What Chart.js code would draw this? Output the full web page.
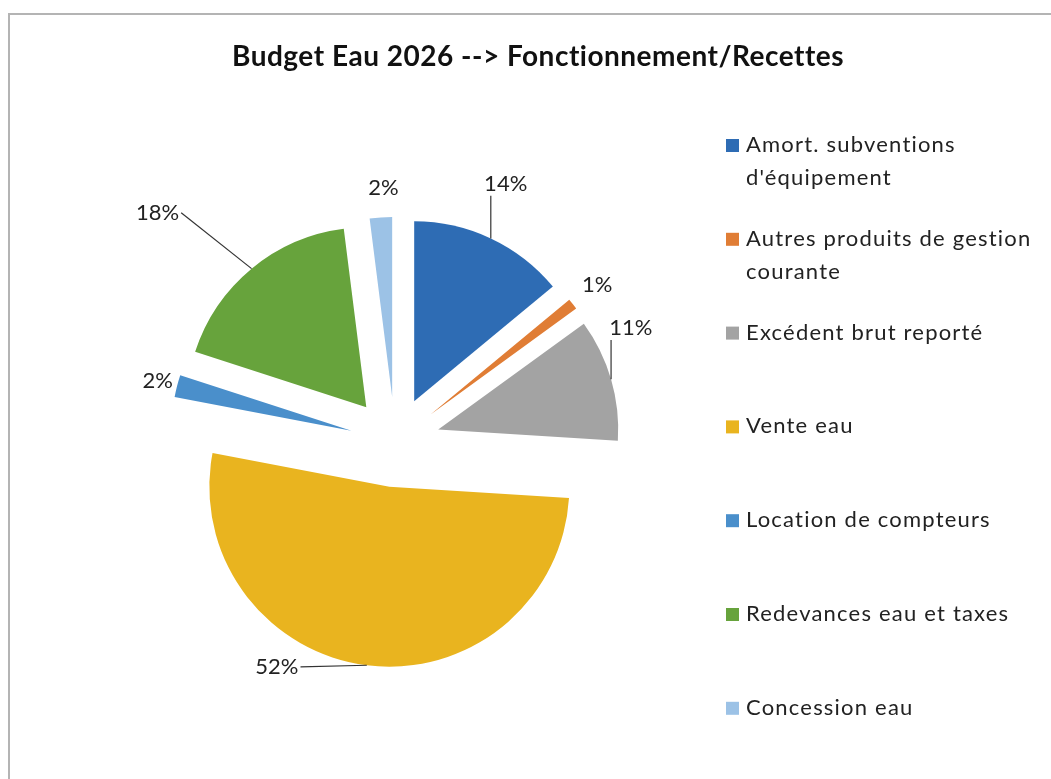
<!DOCTYPE html>
<html>
<head>
<meta charset="utf-8">
<script src="https://cdn.jsdelivr.net/npm/chart.js@4.4.0/dist/chart.umd.min.js"></script>
<style>
  html, body { margin: 0; padding: 0; background: #fff; }
</style>
</head>
<body>
<canvas id="chart-budget" width="1051" height="779"></canvas>
<script>
// données du graphique
const categories = [
  "Amort. subventions d'équipement",
  "Autres produits de gestion courante",
  "Excédent brut reporté",
  "Vente eau",
  "Location de compteurs",
  "Redevances eau et taxes",
  "Concession eau"
];
const percents = [14, 1, 11, 52, 2, 18, 2];
const colors = ["#2e6cb4", "#e07d35", "#a3a3a3", "#e9b41f", "#4a8fcb", "#67a33c", "#9cc2e6"];

const TITLE = "Budget Eau 2026 --> Fonctionnement/Recettes";
const EXPLODE = 45;       // décalage des parts (px)
const FONT = "Lato, 'Noto Sans', sans-serif";

// placement des étiquettes : [décalage d'angle (deg), distance du centre]
const labelPlace = [[-2, 281], [0, 256], [-9.6, 262], [20.5, 254], [0, 245], [-6.4, 330], [1, 254]];
const leaders = [true, false, true, true, false, true, false];

// cadre + titre
const frame = {
  id: "frame",
  beforeDraw(chart) {
    const ctx = chart.ctx;
    ctx.save();
    ctx.strokeStyle = "#b4b4b4";
    ctx.lineWidth = 2;
    ctx.strokeRect(9, 14, 1100, 800);
    ctx.fillStyle = "#111";
    ctx.font = "bold 28px " + FONT;
    ctx.letterSpacing = "0.5px";
    ctx.textAlign = "center";
    ctx.textBaseline = "middle";
    ctx.fillText(TITLE, 538, 57);
    ctx.restore();
  }
};

// parts éclatées : translation pure le long de la bissectrice
const explode = {
  id: "explode",
  beforeDatasetDraw(chart, args) {
    const ctx = chart.ctx;
    args.meta.data.forEach(arc => {
      const mid = (arc.startAngle + arc.endAngle) / 2;
      ctx.save();
      ctx.translate(Math.cos(mid) * EXPLODE, Math.sin(mid) * EXPLODE);
      arc.draw(ctx);
      ctx.restore();
    });
    return false;
  }
};

// étiquettes de pourcentage + lignes de rappel
const pctLabels = {
  id: "pctLabels",
  afterDatasetsDraw(chart) {
    const ctx = chart.ctx;
    const arcs = chart.getDatasetMeta(0).data;
    const total = percents.reduce((a, b) => a + b, 0);
    ctx.save();
    ctx.font = "22px " + FONT;
    ctx.fillStyle = "#222";
    ctx.strokeStyle = "#333";
    ctx.lineWidth = 1.2;
    ctx.textAlign = "center";
    ctx.textBaseline = "middle";
    arcs.forEach((arc, i) => {
      const mid = (arc.startAngle + arc.endAngle) / 2;
      const a = mid + labelPlace[i][0] * Math.PI / 180;
      const d = labelPlace[i][1];
      const lx = arc.x + Math.cos(a) * d;
      const ly = arc.y + Math.sin(a) * d;
      const txt = Math.round(percents[i] / total * 100) + "%";
      ctx.fillText(txt, lx, ly);
      if (leaders[i]) {
        const w = ctx.measureText(txt).width;
        const left = lx - w / 2 - 2, right = lx + w / 2 + 2;
        const top = ly - 12, bottom = ly + 12;
        const px = arc.x + Math.cos(mid) * (EXPLODE + arc.outerRadius);
        const py = arc.y + Math.sin(mid) * (EXPLODE + arc.outerRadius);
        let ex, ey;
        if (px >= left && px <= right) {
          ex = px; ey = py > ly ? bottom : top;
        } else {
          ex = px < left ? left : right; ey = ly;
        }
        ctx.beginPath();
        ctx.moveTo(ex, ey);
        ctx.lineTo(px, py);
        ctx.stroke();
      }
    });
    ctx.restore();
  }
};

// légende à droite
const sideLegend = {
  id: "sideLegend",
  afterDraw(chart) {
    const ctx = chart.ctx;
    const x0 = 726, tx = 746, maxW = 295;
    const y0 = 145, step = 93.8, lineH = 33;
    ctx.save();
    ctx.font = "22px " + FONT;
    ctx.letterSpacing = "1.2px";
    ctx.textBaseline = "middle";
    ctx.textAlign = "left";
    chart.data.labels.forEach((label, i) => {
      const y = y0 + i * step;
      ctx.fillStyle = colors[i];
      ctx.fillRect(x0, y - 6, 13, 13);
      // coupure des mots
      const words = label.split(" ");
      const lines = [];
      let cur = "";
      words.forEach(wd => {
        const test = cur ? cur + " " + wd : wd;
        if (ctx.measureText(test).width > maxW && cur) {
          lines.push(cur);
          cur = wd;
        } else {
          cur = test;
        }
      });
      lines.push(cur);
      ctx.fillStyle = "#222";
      lines.forEach((ln, k) => ctx.fillText(ln, tx, y + k * lineH));
    });
    ctx.restore();
  }
};

new Chart(document.getElementById("chart-budget"), {
  type: "pie",
  data: {
    labels: categories,
    datasets: [{
      data: percents,
      backgroundColor: colors,
      borderWidth: 0,
      radius: 180
    }]
  },
  options: {
    responsive: false,
    animation: false,
    layout: { padding: { left: 100, right: 361, top: 200, bottom: 95 } },
    plugins: {
      legend: { display: false },
      title: { display: false },
      tooltip: { enabled: false }
    }
  },
  plugins: [frame, explode, pctLabels, sideLegend]
});
</script>
</body>
</html>
